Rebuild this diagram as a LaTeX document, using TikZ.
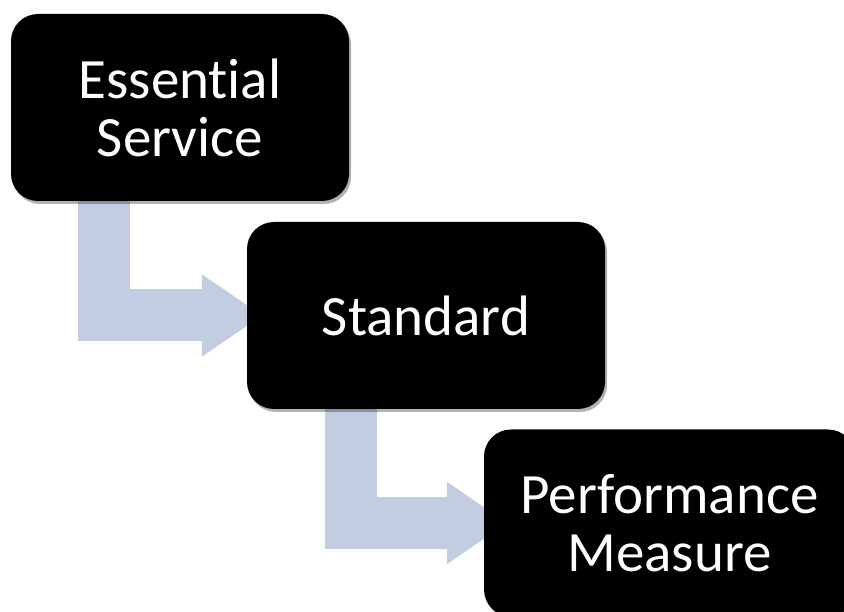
\documentclass[tikz,border=0pt]{standalone}
\usepackage{fontspec}
\setmainfont{Carlito}[RawFeature={-liga,-clig,-calt}]
\usetikzlibrary{arrows.meta,shadows,backgrounds}
\definecolor{flowblue}{RGB}{194,205,225}
\tikzset{
  stepbox/.style={fill=black, text=white, rounded corners=27pt, minimum height=187pt,
    inner sep=0pt, align=center, font=\fontsize{57}{58}\selectfont,
    drop shadow={shadow xshift=2pt, shadow yshift=-3pt, opacity=0.3, fill=black}},
  flow/.style={draw=flowblue, line width=52pt, line join=miter,
    -{Triangle[length=61pt,width=78pt]}}
}
\begin{document}
\begin{tikzpicture}[x=1pt,y=-1pt]
        \useasboundingbox (0,0) rectangle (844,612);

        \node[stepbox, minimum width=338pt] (service) at (180,107.5) {Essential\\Service};
        \node[stepbox, minimum width=358pt] (standard) at (426,315.5) {Standard};
        \node[stepbox, minimum width=371pt] (measure) at (669.5,523) {Performance\\Measure};

        % fleches coudees sous les boites
        \begin{scope}[on background layer]
        \draw[flow] ([xshift=-76pt,yshift=10pt]service.south) |- ([xshift=16pt]standard.west);
        \draw[flow] ([xshift=-75pt,yshift=10pt]standard.south) |- ([xshift=24pt]measure.west);
        \end{scope}
    \end{tikzpicture}
\end{document}
